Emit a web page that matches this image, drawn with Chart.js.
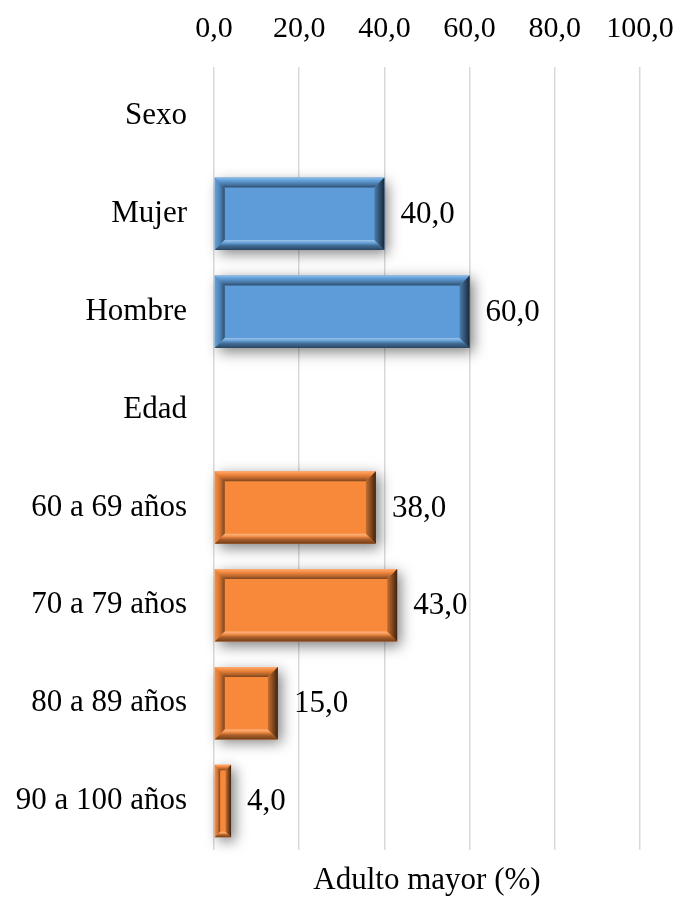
<!DOCTYPE html>
<html>
<head>
<meta charset="utf-8">
<script src="https://cdn.jsdelivr.net/npm/chart.js@4/dist/chart.umd.min.js"></script>
<style>
  html, body { margin: 0; padding: 0; background: #ffffff; }
  canvas { display: block; }
</style>
</head>
<body>
<canvas id="chart" width="680" height="906"></canvas>
<script>
// Categories (group headings have no value) and the percentage per row
const categories = ['Sexo', 'Mujer', 'Hombre', 'Edad', '60 a 69 años', '70 a 79 años', '80 a 89 años', '90 a 100 años'];
const groups = ['Sexo', 'Sexo', 'Sexo', 'Edad', 'Edad', 'Edad', 'Edad', 'Edad'];
const values = [null, 40.0, 60.0, null, 38.0, 43.0, 15.0, 4.0];
const xTicks = [0, 20, 40, 60, 80, 100];
const axisTitle = 'Adulto mayor (%)';

const groupColors = { Sexo: '#5d9cd8', Edad: '#f8893b' };
const FONT = "'Liberation Serif', 'Times New Roman', serif";
const fmt = v => Number(v).toFixed(1).replace('.', ',');

function hexToRgb(h) {
  const n = parseInt(h.slice(1), 16);
  return [(n >> 16) & 255, (n >> 8) & 255, n & 255];
}
// t > 0 lightens toward white, t < 0 darkens toward black
function shade(rgb, t) {
  const target = t > 0 ? 255 : 0;
  const a = Math.abs(t);
  const c = rgb.map(v => Math.round(v + (target - v) * a));
  return `rgb(${c[0]},${c[1]},${c[2]})`;
}

// Drop shadow under the bars, then a bevelled frame on top of each bar
const bevelPlugin = {
  id: 'bevel',
  beforeDatasetDraw(chart) {
    const ctx = chart.ctx;
    ctx.save();
    ctx.shadowColor = 'rgba(0,0,0,0.5)';
    ctx.shadowBlur = 13;
    ctx.shadowOffsetX = 4;
    ctx.shadowOffsetY = 4;
  },
  afterDatasetDraw(chart, args) {
    const ctx = chart.ctx;
    ctx.restore();
    args.meta.data.forEach((bar, i) => {
      if (values[i] == null) return;
      const p = bar.getProps(['x', 'y', 'base', 'height'], true);
      const l = Math.min(p.x, p.base), r = Math.max(p.x, p.base);
      const t = p.y - p.height / 2, btm = p.y + p.height / 2;
      const w = r - l;
      const b = Math.min(10, w / 3, p.height / 3);
      const rgb = hexToRgb(groupColors[groups[i]]);

      const side = (pts, grad) => {
        ctx.beginPath();
        ctx.moveTo(pts[0][0], pts[0][1]);
        for (let k = 1; k < pts.length; k++) ctx.lineTo(pts[k][0], pts[k][1]);
        ctx.closePath();
        ctx.fillStyle = grad;
        ctx.fill();
      };

      ctx.save();
      // top
      let g = ctx.createLinearGradient(0, t, 0, t + b);
      g.addColorStop(0, shade(rgb, 0.3));
      g.addColorStop(0.3, shade(rgb, 0.02));
      g.addColorStop(0.7, shade(rgb, -0.25));
      g.addColorStop(1, shade(rgb, -0.5));
      side([[l, t], [r, t], [r - b, t + b], [l + b, t + b]], g);
      // left
      g = ctx.createLinearGradient(l, 0, l + b, 0);
      g.addColorStop(0, shade(rgb, 0.05));
      g.addColorStop(0.5, shade(rgb, -0.15));
      g.addColorStop(1, shade(rgb, -0.5));
      side([[l, t], [l + b, t + b], [l + b, btm - b], [l, btm]], g);
      // bottom
      g = ctx.createLinearGradient(0, btm - b, 0, btm);
      g.addColorStop(0, shade(rgb, 0.4));
      g.addColorStop(0.25, shade(rgb, 0.1));
      g.addColorStop(0.55, shade(rgb, -0.3));
      g.addColorStop(1, shade(rgb, -0.55));
      side([[l, btm], [l + b, btm - b], [r - b, btm - b], [r, btm]], g);
      // right
      g = ctx.createLinearGradient(r - b, 0, r, 0);
      g.addColorStop(0, shade(rgb, -0.2));
      g.addColorStop(0.55, shade(rgb, -0.5));
      g.addColorStop(1, shade(rgb, -0.75));
      side([[r, t], [r, btm], [r - b, btm - b], [r - b, t + b]], g);
      ctx.restore();
    });
  }
};

// Value labels to the right of each bar
const valueLabels = {
  id: 'valueLabels',
  afterDatasetsDraw(chart) {
    const ctx = chart.ctx;
    const meta = chart.getDatasetMeta(0);
    ctx.save();
    ctx.font = `31px ${FONT}`;
    ctx.fillStyle = '#000000';
    ctx.textAlign = 'left';
    ctx.textBaseline = 'middle';
    meta.data.forEach((bar, i) => {
      if (values[i] == null) return;
      const p = bar.getProps(['x', 'y'], true);
      ctx.fillText(fmt(values[i]), p.x + 16, p.y + 1);
    });
    ctx.restore();
  }
};

new Chart(document.getElementById('chart'), {
  type: 'bar',
  data: {
    labels: categories,
    datasets: [{
      data: values,
      backgroundColor: ctx => groupColors[groups[ctx.dataIndex]],
      borderWidth: 0,
      barPercentage: 0.74,
      categoryPercentage: 1.0,
      clip: false
    }]
  },
  options: {
    indexAxis: 'y',
    responsive: false,
    devicePixelRatio: 1,
    animation: false,
    layout: { padding: { left: 0, right: 40, top: 0, bottom: 0 } },
    plugins: {
      legend: { display: false },
      tooltip: { enabled: false }
    },
    scales: {
      x: {
        position: 'top',
        min: 0,
        max: 100,
        afterBuildTicks: s => { s.ticks = xTicks.map(v => ({ value: v })); },
        ticks: {
          padding: 20,
          color: '#000000',
          font: { family: FONT, size: 30 },
          callback: v => fmt(v),
          maxRotation: 0,
          autoSkip: false
        },
        grid: { color: '#d9d9d9', lineWidth: 1.5, drawTicks: false },
        border: { display: false },
        afterFit: s => { s.height = 67; s.paddingLeft = 0; s.paddingRight = 0; }
      },
      x2: {
        position: 'bottom',
        min: 0,
        max: 100,
        ticks: { display: false },
        grid: { display: false, drawTicks: false },
        border: { display: false },
        title: {
          display: true,
          text: axisTitle,
          color: '#000000',
          font: { family: FONT, size: 31 },
          padding: { top: 0, bottom: 7 }
        },
        afterFit: s => { s.height = 56; s.paddingLeft = 0; s.paddingRight = 0; }
      },
      y: {
        ticks: {
          padding: 27,
          color: '#000000',
          font: { family: FONT, size: 31 }
        },
        grid: { display: false, drawTicks: false },
        border: { display: false },
        afterFit: s => { s.width = 214; s.paddingTop = 0; s.paddingBottom = 0; }
      }
    }
  },
  plugins: [bevelPlugin, valueLabels]
});
</script>
</body>
</html>
